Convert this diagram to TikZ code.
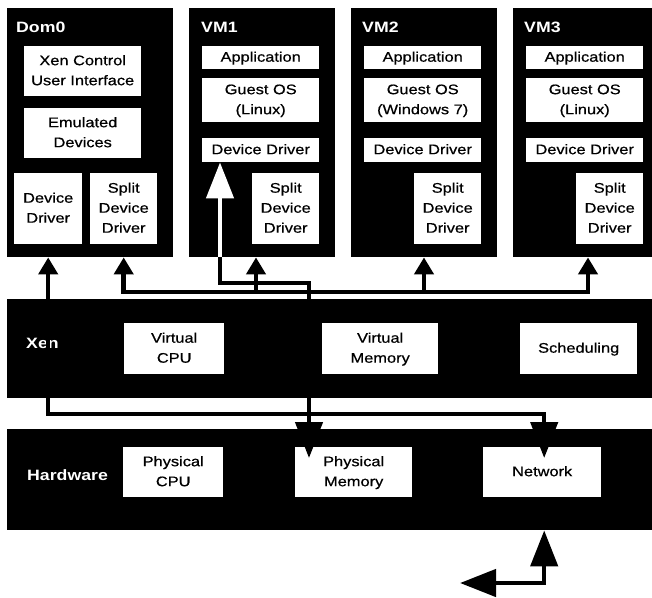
\documentclass[tikz,border=0pt]{standalone}
\usepackage{fontspec}
\setmainfont[UprightFeatures={FakeBold=0.5}]{Liberation Sans}
\usetikzlibrary{arrows.meta}

% the labels of the reference are set a little wide
\newcommand{\wide}[1]{\scalebox{1.18}[1]{\begin{tabular}{@{}c@{}}#1\end{tabular}}}

\tikzset{
  layer/.style={fill=black, inner sep=0pt, anchor=north west},
  part/.style={fill=white, inner sep=0pt, anchor=north west, align=center,
    font=\fontsize{13.9pt}{20pt}\selectfont},
  tag/.style={text=white, inner sep=0pt, anchor=base west,
    font=\fontsize{15pt}{18pt}\selectfont\bfseries},
  link/.style={line width=4.5pt},
  smallhead/.tip={Triangle[width=19pt,length=17pt]},
  bighead/.tip={Triangle[width=27pt,length=36pt]},
}

\begin{document}
\begin{tikzpicture}[x=1pt,y=-1pt]
    \useasboundingbox (0,0) rectangle (652,597);
    \clip (0,0) rectangle (652,597);

    % these are the domains
    \node[layer, minimum width=166pt, minimum height=249pt] (dom0) at (7,8) {};
    \node[layer, minimum width=146pt, minimum height=249pt] (vma) at (189,8) {};
    \node[layer, minimum width=146pt, minimum height=249pt] (vmb) at (351,8) {};
    \node[layer, minimum width=146pt, minimum height=249pt] (vmc) at (513,8) {};

    % hypervisor and hardware
    \node[layer, minimum width=653pt, minimum height=99pt] (xen) at (7,299) {};
    \node[layer, minimum width=653pt, minimum height=101pt] (hw) at (7,429) {};

    \node[tag] (dom0name) at ([xshift=9pt,yshift=-24pt]dom0.north west) {\wide{Dom0}};
    \node[tag] (vmaname) at ([xshift=12pt,yshift=-24pt]vma.north west) {\wide{VM1}};
    \node[tag] (vmbname) at ([xshift=11pt,yshift=-24pt]vmb.north west) {\wide{VM2}};
    \node[tag] (vmcname) at ([xshift=11pt,yshift=-24pt]vmc.north west) {\wide{VM3}};
    \node[tag] (xenname) at (26,348) {\wide{Xen}};
    \node[tag] (hwname) at (27,480) {\wide{Hardware}};

    % Dom0
    \node[part, minimum width=117pt, minimum height=50pt] (dzui) at (24,46) {\wide{Xen Control\\User Interface}};
    \node[part, minimum width=117pt, minimum height=50pt] (dzemu) at (24,108) {\wide{Emulated\\Devices}};
    \node[part, minimum width=68pt, minimum height=71pt] (dzdd) at (14,173) {\wide{Device\\Driver}};
    \node[part, minimum width=67pt, minimum height=71pt] (dzsplit) at (90,173) {\wide{Split\\Device\\Driver}};

    % VM1
    \node[part, minimum width=117pt, minimum height=23pt] (vmaapp) at (202,46) {\wide{Application}};
    \node[part, minimum width=117pt, minimum height=44pt] (vmaos) at (202,78) {\wide{Guest OS\\(Linux)}};
    \node[part, minimum width=117pt, minimum height=24pt] (vmadd) at (202,138) {\wide{Device Driver}};
    \node[part, minimum width=67pt, minimum height=71pt] (vmasplit) at (252,173) {\wide{Split\\Device\\Driver}};

    % VM2
    \node[part, minimum width=117pt, minimum height=23pt] (vmbapp) at (364,46) {\wide{Application}};
    \node[part, minimum width=117pt, minimum height=44pt] (vmbos) at (364,78) {\wide{Guest OS\\(Windows 7)}};
    \node[part, minimum width=117pt, minimum height=24pt] (vmbdd) at (364,138) {\wide{Device Driver}};
    \node[part, minimum width=67pt, minimum height=71pt] (vmbsplit) at (414,173) {\wide{Split\\Device\\Driver}};

    % VM3
    \node[part, minimum width=117pt, minimum height=23pt] (vmcapp) at (526,46) {\wide{Application}};
    \node[part, minimum width=117pt, minimum height=44pt] (vmcos) at (526,78) {\wide{Guest OS\\(Linux)}};
    \node[part, minimum width=117pt, minimum height=24pt] (vmcdd) at (526,138) {\wide{Device Driver}};
    \node[part, minimum width=67pt, minimum height=71pt] (vmcsplit) at (576,173) {\wide{Split\\Device\\Driver}};

    % Xen
    \node[part, minimum width=100pt, minimum height=51pt] (vcpu) at (124,323) {\wide{Virtual\\CPU}};
    \node[part, minimum width=116pt, minimum height=51pt] (vmem) at (322,323) {\wide{Virtual\\Memory}};
    \node[part, minimum width=117pt, minimum height=51pt] (sched) at (520,323) {\wide{Scheduling}};

    % Hardware
    \node[part, minimum width=100pt, minimum height=50pt] (pcpu) at (123,447) {\wide{Physical\\CPU}};
    \node[part, minimum width=117pt, minimum height=50pt] (pmem) at (295,447) {\wide{Physical\\Memory}};
    \node[part, minimum width=118pt, minimum height=50pt] (net) at (483,447) {\wide{Network}};

    % arrow ends
    \coordinate (membus) at (0,283);
    \coordinate (splitbus) at (0,292);
    \coordinate (netbus) at (0,414);
    \coordinate (dzddtip) at (dzdd.south |- dom0.south);
    \coordinate (dzsplittip) at (dzsplit.south |- dom0.south);
    \coordinate (vmatip) at ([xshift=4pt]vmasplit.south west |- vma.south);
    \coordinate (vmbtip) at ([xshift=10pt]vmbsplit.south west |- vmb.south);
    \coordinate (vmctip) at ([xshift=12pt]vmcsplit.south west |- vmc.south);
    \coordinate (ddtip) at ([xshift=18pt]vmadd.south west);
    \coordinate (ddfoot) at (ddtip |- vma.south);
    \coordinate (pmemtip) at ([xshift=14pt,yshift=-11pt]pmem.north west);
    \coordinate (nettop) at ([xshift=2pt,yshift=-11pt]net.north);
    \coordinate (netfoot) at ([xshift=2pt]net.south |- hw.south);
    \coordinate (outside) at (460,583);

    \draw[link, {smallhead}-{bighead}] (dzddtip) -- (dzddtip |- netbus) -| (nettop);
    \draw[link, {smallhead}-{smallhead}] (dzsplittip) -- (dzsplittip |- splitbus) -| (vmctip);
    \draw[link, -{smallhead}] (vmatip |- splitbus) -- (vmatip);
    \draw[link, -{smallhead}] (vmbtip |- splitbus) -- (vmbtip);
    \draw[link, white, -{bighead}] (ddfoot) -- (ddtip);
    \draw[link, -{bighead}] (ddfoot) -- (ddfoot |- membus) -| (pmemtip);
    \draw[link, {bighead}-{bighead}] (netfoot) |- (outside);

\end{tikzpicture}
\end{document}
